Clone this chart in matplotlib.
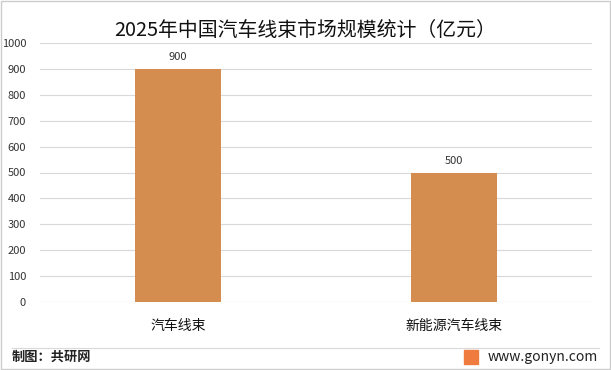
import numpy as np
import matplotlib.pyplot as plt
from matplotlib.patches import Rectangle
from matplotlib.lines import Line2D

plt.rcParams['font.family'] = ['Noto Sans CJK SC', 'DejaVu Sans']

categories = ['汽车线束', '新能源汽车线束']
values = [900, 500]
yticks = list(range(0, 1001, 100))

fig = plt.figure(figsize=(6.11, 3.70), dpi=100)
ax = fig.add_axes([40/611, 1-302/370, 552/611, 259/370])

x = np.arange(len(categories))
bars = ax.bar(x, values, width=0.315, color='#D48C4F', zorder=3)
for xi, v in zip(x, values):
    ax.text(xi, v + 25, str(v), ha='center', va='bottom', fontsize=8, color='#333333')

ax.set_xlim(-0.5, len(categories) - 0.5)
ax.set_ylim(0, 1000)
ax.set_yticks(yticks)
ax.set_yticklabels([str(t) for t in yticks], fontsize=8, color='#333333')
ax.set_xticks(x)
ax.set_xticklabels(categories, fontsize=10, color='#111111')
ax.tick_params(axis='both', length=0, pad=4)
ax.tick_params(axis='x', pad=12)
ax.tick_params(axis='y', pad=10)
ax.grid(axis='y', color='#d9d9d9', linewidth=0.8, zorder=0)
for s in ax.spines.values():
    s.set_visible(False)
ax.axhline(0, color='#d9d9d9', linewidth=0.8, zorder=1)

fig.text(0.5, 1-30/370, '2025年中国汽车线束市场规模统计（亿元）', ha='center', va='center',
         fontsize=14.3, color='#111111')

# footer
fig.add_artist(Line2D([12/611, 599/611], [1-348/370, 1-348/370], color='#d9d9d9', linewidth=0.8))
fig.text(12/611, 1-357/370, '制图：共研网', ha='left', va='center', fontsize=9.5,
         fontweight='bold', color='#222222')
fig.text(598/611, 1-357/370, 'www.gonyn.com', ha='right', va='center', fontsize=10, color='#222222')
fig.add_artist(Rectangle((464/611, 1-364/370), 14/611, 14/370, color='#F07B3F', transform=fig.transFigure))

# border
fig.add_artist(Rectangle((1/611, 1/370), 609/611, 368/370, fill=False, edgecolor='#cccccc',
                         linewidth=1, transform=fig.transFigure))

fig.savefig('out.png', dpi=100)
